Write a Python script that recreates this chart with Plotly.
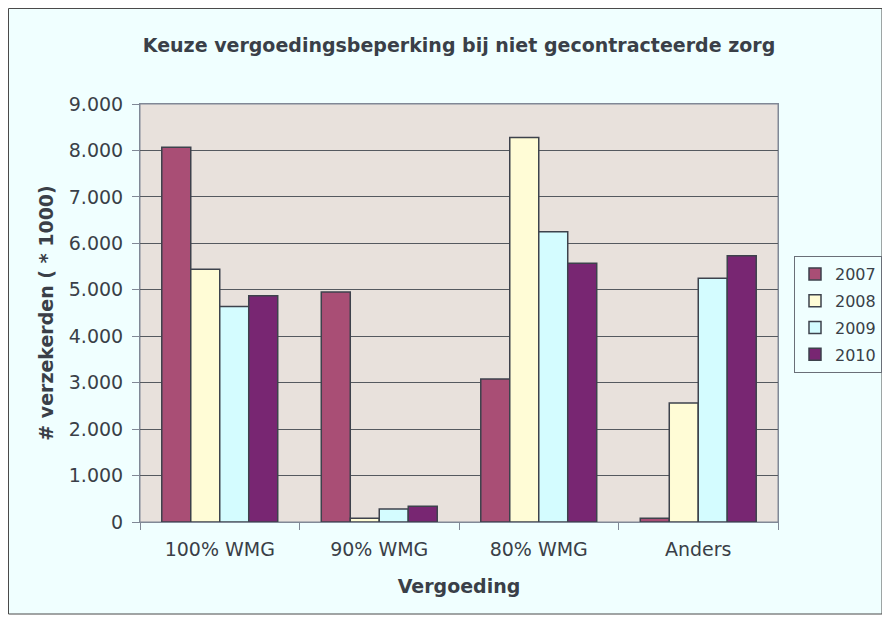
import plotly.graph_objects as go

categories = ["100% WMG", "90% WMG", "80% WMG", "Anders"]
years = ["2007", "2008", "2009", "2010"]
v2007 = [8070, 4950, 3080, 80]
v2008 = [5440, 80, 8280, 2560]
v2009 = [4640, 280, 6250, 5250]
v2010 = [4870, 340, 5570, 5730]
series = [v2007, v2008, v2009, v2010]
colors = ["#A94E75", "#FFFCD6", "#D4FCFF", "#782672"]

FONT = "Verdana, DejaVu Sans, sans-serif"
TXT = "#3a3f48"

fig = go.Figure()
for name, vals, col in zip(years, series, colors):
    fig.add_trace(go.Bar(
        x=categories, y=vals, name=name, legendgroup=name,
        marker=dict(color=col, line=dict(color="#3d424c", width=1.5)),
    ))

# page body adds an 8px offset; figure coordinates below are relative to the figure
W, H = 882, 616
L, R, T, B = 132, 112, 96, 102
pw, ph = W - L - R, H - T - B

def px_x(x):
    return (x - L) / pw

def px_y(y):
    return (H - B - y) / ph

fig.add_shape(type="rect", xref="paper", yref="paper",
              x0=px_x(0.5), x1=px_x(874), y0=px_y(606), y1=px_y(0.5),
              fillcolor="#F0FFFF", line=dict(color="#4a4a4a", width=1), layer="below")
fig.add_shape(type="rect", xref="paper", yref="paper",
              x0=0, x1=1, y0=0, y1=1,
              fillcolor="#E8E1DC", line=dict(color="#808896", width=1), layer="below")

fig.update_layout(
    width=W, height=H,
    margin=dict(l=L, r=R, t=T, b=B, autoexpand=False),
    paper_bgcolor="white",
    plot_bgcolor="rgba(0,0,0,0)",
    separators=",.",
    barmode="group",
    bargap=0.273,
    bargroupgap=0,
    font=dict(family=FONT, size=19, color=TXT),
    title=dict(text="<b>Keuze vergoedingsbeperking bij niet gecontracteerde zorg</b>",
               x=0.5, xref="paper", xanchor="center", y=1 - 37 / H, yanchor="middle",
               font=dict(family=FONT, size=19, color=TXT)),
    legend=dict(x=px_x(786), y=px_y(248), xanchor="left", yanchor="top",
                bgcolor="rgba(0,0,0,0)", bordercolor="#6a6f78", borderwidth=1,
                font=dict(family=FONT, size=16, color=TXT),
                itemwidth=30,
                tracegroupgap=3, traceorder="grouped"),
    showlegend=True,
)
fig.update_xaxes(
    showline=True, linecolor="#808896", linewidth=1, mirror=True,
    ticks="outside", tickson="boundaries", ticklen=7, tickcolor="#808896",
    ticklabelstandoff=10,
    showgrid=False,
    title=dict(text="<b>Vergoeding</b>", font=dict(family=FONT, size=19, color=TXT), standoff=20),
)
fig.update_yaxes(
    range=[0, 9000], dtick=1000, tickformat=",d",
    showline=True, linecolor="#808896", linewidth=1, mirror=True,
    ticks="outside", ticklen=7, tickcolor="#808896",
    ticklabelstandoff=5,
    showgrid=True, gridcolor="#55595f", gridwidth=1,
    zeroline=False,
    title=dict(text="<b># verzekerden ( * 1000)</b>", font=dict(family=FONT, size=19, color=TXT), standoff=10),
)

fig.write_html("out.html")
